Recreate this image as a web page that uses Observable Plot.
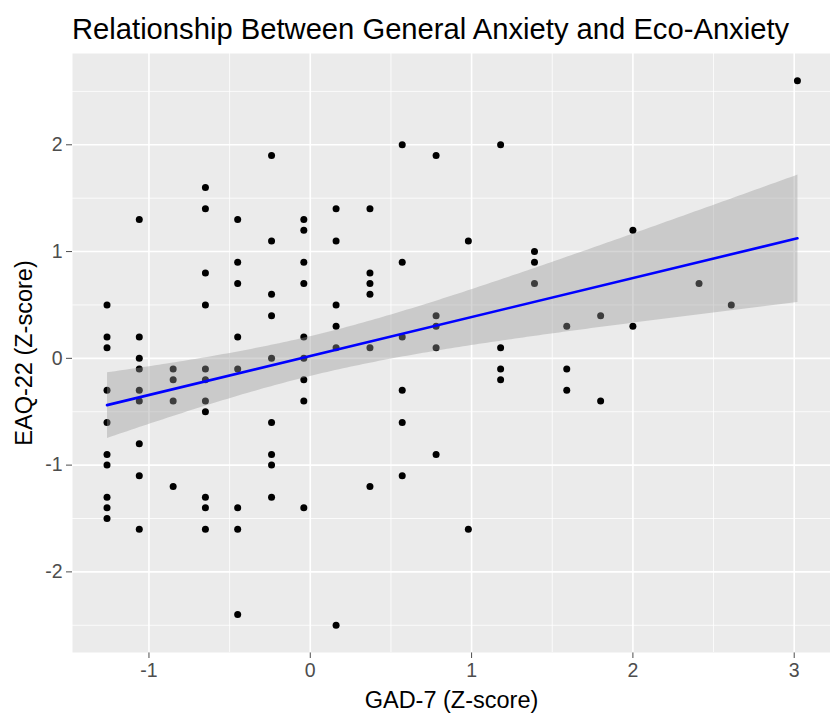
<!DOCTYPE html>
<html><head><meta charset="utf-8">
<script src="https://cdn.jsdelivr.net/npm/d3@7"></script>
<script src="https://cdn.jsdelivr.net/npm/@observablehq/plot@0.6"></script>
<style>
body{margin:0;background:#fff;font-family:"Liberation Sans",Arial,sans-serif;overflow:hidden;}
#title{height:53px;box-sizing:border-box;padding:13px 0 0 72px;font-size:29.2px;line-height:1.15;color:#000;white-space:nowrap;}
</style></head><body>
<div id="title">Relationship Between General Anxiety and Eco-Anxiety</div>
<div id="chart"></div>
<script>
// GAD-7 z-scores (x) and EAQ-22 z-scores (y), grouped by GAD-7 level
const gad = [
  -1.26,-1.26,-1.26,-1.26,-1.26,-1.26,-1.26,-1.26,-1.26,-1.26,
  -1.06,-1.06,-1.06,-1.06,-1.06,-1.06,-1.06,-1.06,-1.06,
  -0.85,-0.85,-0.85,-0.85,
  -0.65,-0.65,-0.65,-0.65,-0.65,-0.65,-0.65,-0.65,-0.65,-0.65,-0.65,
  -0.45,-0.45,-0.45,-0.45,-0.45,-0.45,-0.45,-0.45,
  -0.24,-0.24,-0.24,-0.24,-0.24,-0.24,-0.24,-0.24,-0.24,
  -0.04,-0.04,-0.04,-0.04,-0.04,-0.04,-0.04,-0.04,-0.04,
  0.16,0.16,0.16,0.16,0.16,0.16,
  0.37,0.37,0.37,0.37,0.37,0.37,
  0.57,0.57,0.57,0.57,0.57,0.57,
  0.78,0.78,0.78,0.78,0.78,
  0.98,0.98,
  1.18,1.18,1.18,1.18,
  1.39,1.39,1.39,
  1.59,1.59,1.59,
  1.80,1.80,
  2.00,2.00,
  2.41,
  2.61,
  3.02
];
const eaq = [
  0.5,0.2,0.1,-0.3,-0.6,-0.9,-1.0,-1.3,-1.4,-1.5,
  1.3,0.2,0.0,-0.1,-0.3,-0.4,-0.8,-1.1,-1.6,
  -0.1,-0.2,-0.4,-1.2,
  1.6,1.4,0.8,0.5,-0.1,-0.2,-0.4,-0.5,-1.3,-1.4,-1.6,
  1.3,0.9,0.7,0.2,-0.1,-1.4,-1.6,-2.4,
  1.9,1.1,0.6,0.4,0.0,-0.6,-0.9,-1.0,-1.3,
  1.3,1.2,0.9,0.7,0.2,0.0,-0.2,-0.4,-1.4,
  1.4,1.1,0.5,0.3,0.1,-2.5,
  1.4,0.8,0.7,0.6,0.1,-1.2,
  2.0,0.9,0.2,-0.3,-0.6,-1.1,
  1.9,0.4,0.3,0.1,-0.9,
  1.1,-1.6,
  2.0,0.1,-0.1,-0.2,
  1.0,0.9,0.7,
  0.3,-0.1,-0.3,
  0.4,-0.4,
  1.2,0.3,
  0.7,
  0.5,
  2.6
];
const xMajor = [-1, 0, 1, 2, 3];
const xMinor = [-0.5, 0.5, 1.5, 2.5];
const yMajor = [-2, -1, 0, 1, 2];
const yMinor = [-2.5, -1.5, -0.5, 0.5, 1.5, 2.5];
const xDomain = [-1.474, 3.225];
const yDomain = [-2.755, 2.855];
const xTitle = "GAD-7 (Z-score)";
const yTitle = "EAQ-22 (Z-score)";

const points = gad.map((g, i) => ({gad: g, eaq: eaq[i]}));

const chart = Plot.plot({
  width: 830,
  height: 662,
  marginTop: 0,
  marginBottom: 63,
  marginLeft: 72,
  marginRight: 0,
  style: {fontFamily: "Liberation Sans, Arial, sans-serif", fontSize: "19.5px", color: "#4D4D4D", background: "white", overflow: "visible"},
  x: {domain: xDomain, ticks: xMajor, tickFormat: d => String(d), tickSize: 6, tickPadding: 5, label: null},
  y: {domain: yDomain, ticks: yMajor, tickFormat: d => String(d), tickSize: 6, tickPadding: 4, label: null},
  marks: [
    Plot.frame({fill: "#EBEBEB", stroke: null}),
    Plot.ruleX(xMinor, {stroke: "white", strokeWidth: 0.8}),
    Plot.ruleY(yMinor, {stroke: "white", strokeWidth: 0.8}),
    Plot.ruleX(xMajor, {stroke: "white", strokeWidth: 1.6}),
    Plot.ruleY(yMajor, {stroke: "white", strokeWidth: 1.6}),
    Plot.dot(points, {x: "gad", y: "eaq", r: 3.5, fill: "black", stroke: null}),
    Plot.linearRegressionY(points, {x: "gad", y: "eaq", stroke: "#0000FF", strokeWidth: 2.6, fill: "#999999", fillOpacity: 0.4, ci: 0.95}),
    Plot.text([xTitle], {text: d => d, frameAnchor: "bottom", lineAnchor: "middle", textAnchor: "middle", dy: 48, fill: "black", fontSize: 23.5}),
    Plot.text([yTitle], {text: d => d, frameAnchor: "left", lineAnchor: "middle", textAnchor: "middle", dx: -48, rotate: -90, fill: "black", fontSize: 23.5})
  ]
});
document.getElementById("chart").appendChild(chart);
</script>
</body></html>
